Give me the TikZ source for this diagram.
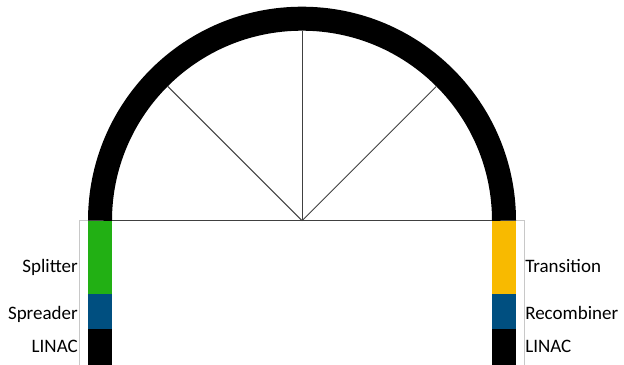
\documentclass[tikz,border=0pt]{standalone}
\usepackage{fontspec}
\setmainfont{Carlito}
\definecolor{sgreen}{RGB}{34,176,20}
\definecolor{sblue}{RGB}{0,79,128}
\definecolor{syellow}{RGB}{248,186,0}
\definecolor{rayc}{RGB}{64,64,64}
\definecolor{framec}{RGB}{200,200,200}
\begin{document}
\begin{tikzpicture}[x=0.75pt,y=-0.75pt,
  lbl/.style={inner sep=0pt,font=\fontsize{14.25pt}{17pt}\selectfont},
  ray/.style={draw=rayc,line width=0.75pt},
  ring/.style={draw=black,line width=18pt}]
\useasboundingbox (0,0) rectangle (624,364);
\begin{scope}
\clip (0,0) rectangle (624,364);
\draw[framec,line width=0.75pt] (79.5,220.7) rectangle (524,380);
\coordinate (C) at (302,220.7);
\coordinate (L) at (112,220.7);
\coordinate (R) at (492,220.7);
\draw[ring] (100,220.7) arc[start angle=180,end angle=360,radius=202];
\draw[ray] (L) -- (R);
\draw[ray] (C) -- ++(225:190) coordinate (A1);
\draw[ray] (C) -- ++(270:190) coordinate (A2);
\draw[ray] (C) -- ++(315:190) coordinate (A3);
% left column
\fill[sgreen] (88,220.7) rectangle (112,294);
\fill[sblue] (88,294) rectangle (112,329);
\fill[black] (88,329) rectangle (112,370);
% right column
\fill[syellow] (492,220.7) rectangle (516,294);
\fill[sblue] (492,294) rectangle (516,329);
\fill[black] (492,329) rectangle (516,370);
\end{scope}
\node[lbl,anchor=base east] (splitter) at (78,272) {Splitter};
\node[lbl,anchor=base east] (spreader) at (78,319) {Spreader};
\node[lbl,anchor=base east] (linacl) at (78,352) {LINAC};
\node[lbl,anchor=base west] (transition) at (525,272) {Transition};
\node[lbl,anchor=base west] (recombiner) at (525,319) {Recombiner};
\node[lbl,anchor=base west] (linacr) at (525,352) {LINAC};
\end{tikzpicture}
\end{document}
